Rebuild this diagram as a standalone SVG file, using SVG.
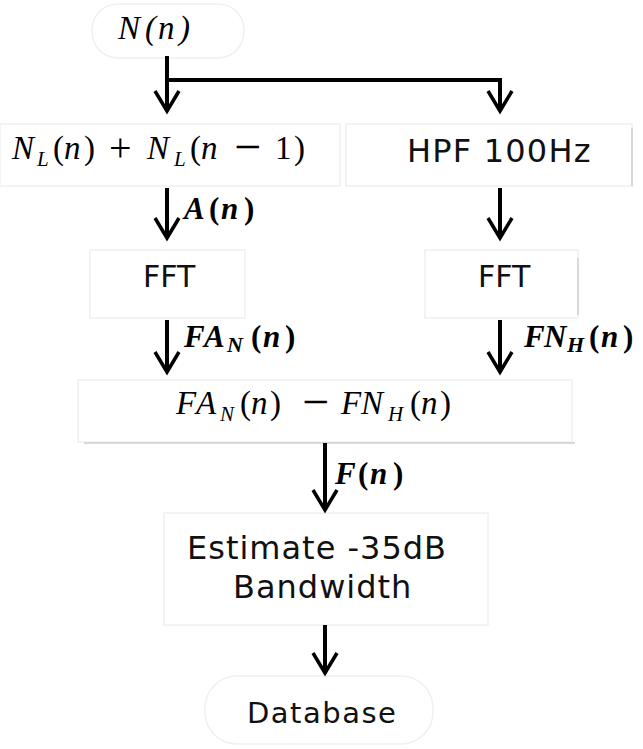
<svg xmlns="http://www.w3.org/2000/svg" width="643" height="749" viewBox="0 0 643 749">
<defs>
<style>
.box{fill:#fff;stroke:#f0f0f0;stroke-width:1.5}
.edge{stroke:#d8d8d8;stroke-width:2}
.math{font-family:"Liberation Serif","DejaVu Serif",serif;font-style:italic;fill:#000;font-size:33px}
.up{font-style:normal}
.sub{font-size:21px}
.op{font-style:normal;font-size:48px}
.plus{font-style:normal;font-size:40px}
.lbl{font-family:"Liberation Serif","DejaVu Serif",serif;font-style:italic;font-weight:bold;fill:#000;font-size:31px}
.lsub{font-size:22px}
.sans{font-family:"DejaVu Sans","Noto Sans",sans-serif;fill:#111}
.ln{fill:none;stroke:#000;stroke-width:4}
.hd{fill:none;stroke:#000;stroke-width:3.5;stroke-linejoin:miter}
</style>
</defs>
<rect width="643" height="749" fill="#fff"/>

<g id="n-input">
<rect class="box" x="92" y="4" width="152" height="54" rx="26"/>
<text class="math" y="39" font-size="36"><tspan x="118">N</tspan><tspan x="145">(</tspan><tspan x="158">n</tspan><tspan x="179">)</tspan></text>
</g>

<g id="n-sum">
<rect class="box" x="0" y="124" width="340" height="62"/>
<text class="math" y="159"><tspan x="12">N</tspan><tspan class="sub" x="37" dy="7">L</tspan><tspan class="up" x="53" dy="-7">(</tspan><tspan x="64">n</tspan><tspan class="up" x="84">)</tspan><tspan class="plus" x="109" dy="2">+</tspan><tspan x="147" dy="-2">N</tspan><tspan class="sub" x="174" dy="7">L</tspan><tspan class="up" x="190" dy="-7">(</tspan><tspan x="201">n</tspan><tspan class="op" x="234" dy="4">−</tspan><tspan class="up" x="275" dy="-4">1</tspan><tspan class="up" x="294">)</tspan></text>
</g>

<g id="n-hpf">
<rect class="box" x="346" y="124" width="286" height="62"/>
<line class="edge" x1="632" y1="128" x2="632" y2="186"/>
<text class="sans" x="407" y="162" font-size="32" letter-spacing="1.2">HPF 100Hz</text>
</g>

<g id="n-fft1">
<rect class="box" x="90" y="250" width="155" height="68"/>
<text class="sans" x="143" y="287" font-size="30">FFT</text>
</g>

<g id="n-fft2">
<rect class="box" x="425" y="250" width="153" height="68"/>
<line class="edge" x1="578" y1="258" x2="578" y2="315"/>
<text class="sans" x="478" y="287" font-size="30">FFT</text>
</g>

<g id="n-diff">
<rect class="box" x="78" y="380" width="494" height="62"/>
<line class="edge" x1="84" y1="443" x2="575" y2="443"/>
<text class="math" y="414"><tspan x="176">F</tspan><tspan x="196">A</tspan><tspan class="sub" x="220" dy="7">N</tspan><tspan class="up" x="240" dy="-7">(</tspan><tspan x="251">n</tspan><tspan class="up" x="270">)</tspan><tspan class="op" x="302" dy="4">−</tspan><tspan x="341" dy="-4">F</tspan><tspan x="361">N</tspan><tspan class="sub" x="388" dy="7">H</tspan><tspan class="up" x="410" dy="-7">(</tspan><tspan x="421">n</tspan><tspan class="up" x="440">)</tspan></text>
</g>

<g id="n-est">
<rect class="box" x="164" y="513" width="324" height="112"/>
<text class="sans" x="187" y="559" font-size="32" letter-spacing="1">Estimate -35dB</text>
<text class="sans" x="233" y="598" font-size="32" letter-spacing="1">Bandwidth</text>
</g>

<g id="n-db">
<rect class="box" x="205" y="676" width="228" height="68" rx="32"/>
<text class="sans" x="247" y="723" font-size="29" letter-spacing="1.5">Database</text>
</g>

<g id="connectors">
<path class="ln" d="M167 56 V110 M167 80 H500 V110"/>
<path class="hd" d="M155 91 L167 111 L179 91 M488 91 L500 111 L512 91"/>
<path class="ln" d="M167 188 V238 M500 188 V238"/>
<path class="hd" d="M155 218 L167 238 L179 218 M488 218 L500 238 L512 218"/>
<text class="lbl" y="219"><tspan x="184">A</tspan><tspan class="up" x="209">(</tspan><tspan x="221">n</tspan><tspan class="up" x="244">)</tspan></text>
<path class="ln" d="M167 320 V372 M500 320 V372"/>
<path class="hd" d="M155 352 L167 372 L179 352 M488 352 L500 372 L512 352"/>
<text class="lbl" y="347"><tspan x="184">F</tspan><tspan x="204">A</tspan><tspan class="lsub" x="227" dy="5">N</tspan><tspan class="up" x="251" dy="-5">(</tspan><tspan x="263">n</tspan><tspan class="up" x="285">)</tspan></text>
<text class="lbl" y="347"><tspan x="524">F</tspan><tspan x="544">N</tspan><tspan class="lsub" x="567" dy="5">H</tspan><tspan class="up" x="589" dy="-5">(</tspan><tspan x="601">n</tspan><tspan class="up" x="623">)</tspan></text>
<path class="ln" d="M325 443 V510"/>
<path class="hd" d="M313 490 L325 510 L337 490"/>
<text class="lbl" y="484"><tspan x="335">F</tspan><tspan class="up" x="358">(</tspan><tspan x="370">n</tspan><tspan class="up" x="393">)</tspan></text>
<path class="ln" d="M325 625 V672"/>
<path class="hd" d="M313 653 L325 673 L337 653"/>
</g>
</svg>
